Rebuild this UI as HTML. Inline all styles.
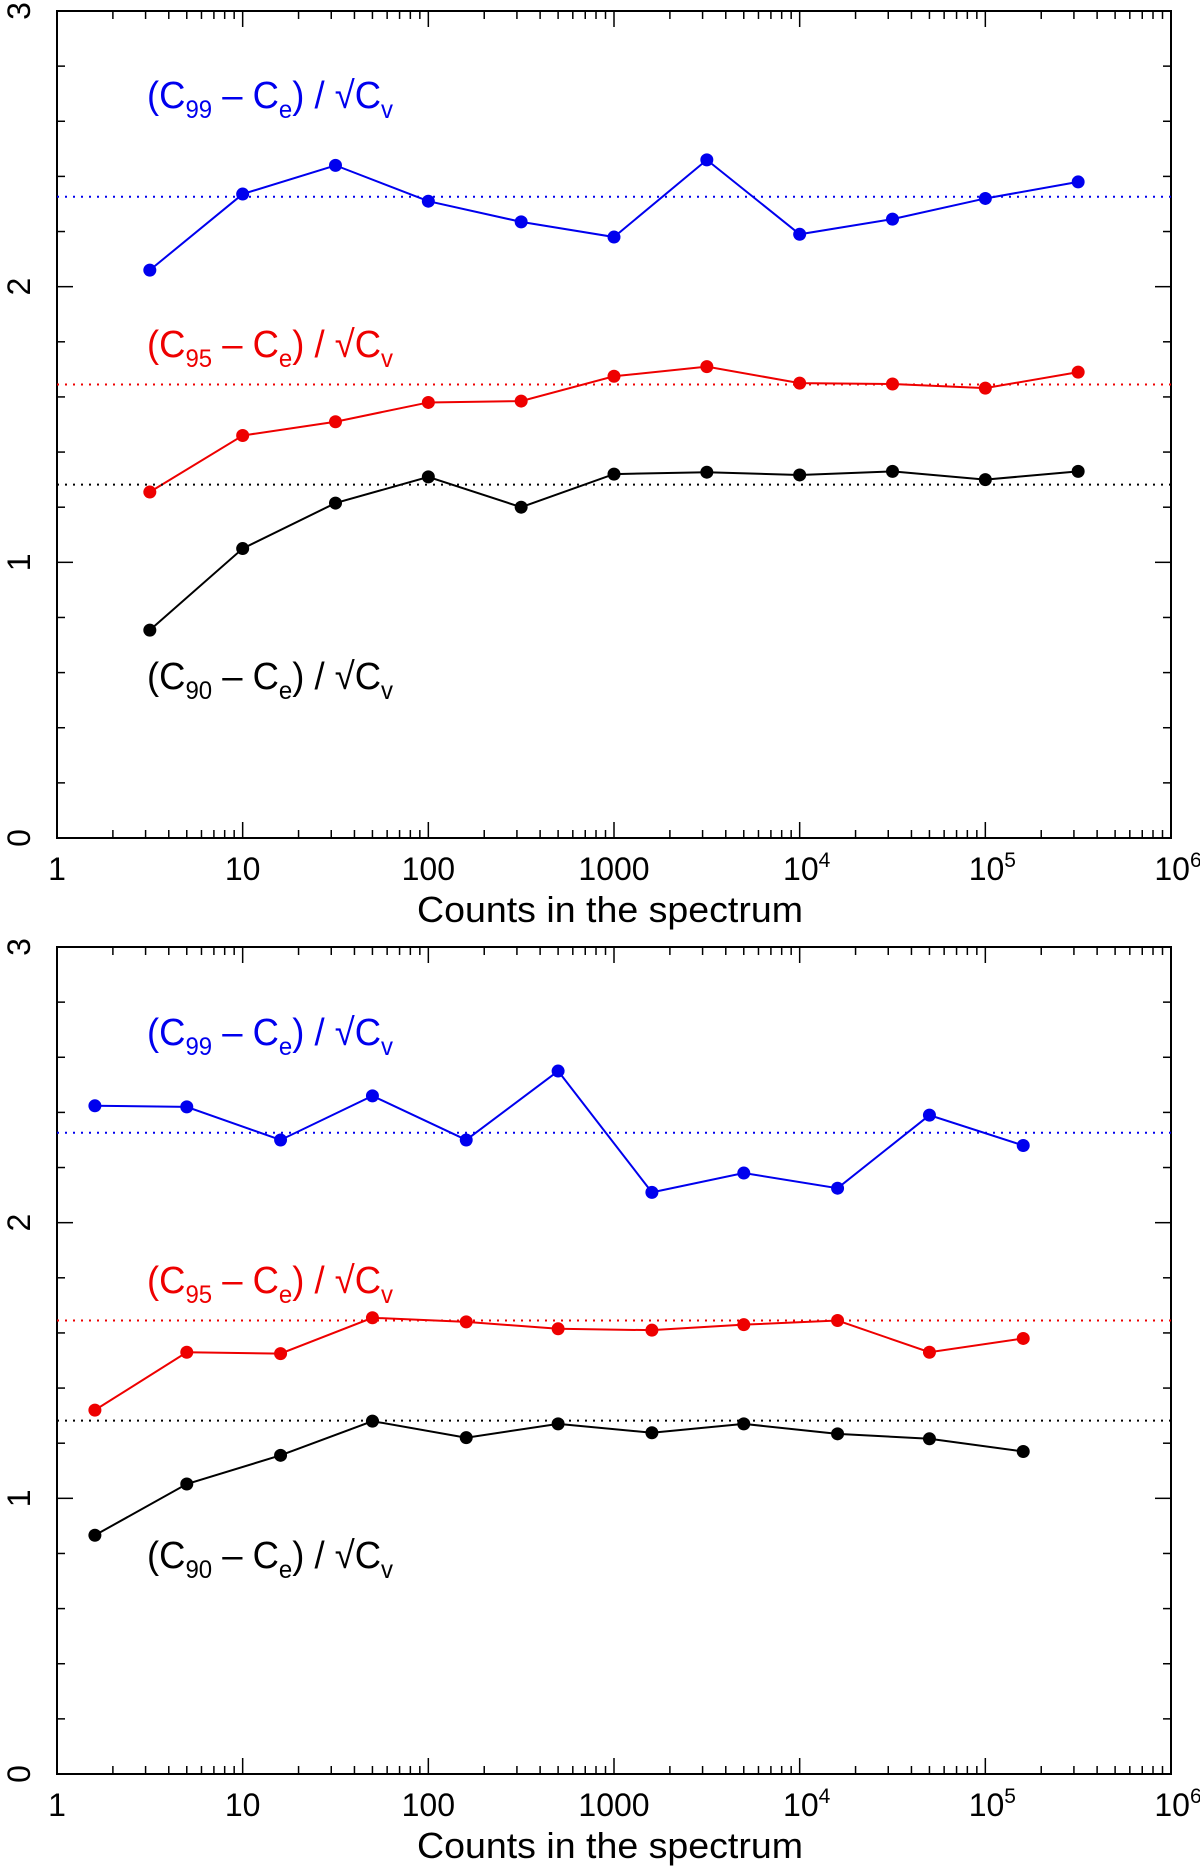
<!DOCTYPE html>
<html><head><meta charset="utf-8"><style>
html,body{margin:0;padding:0;background:#fff;}
svg{display:block;font-family:"Liberation Sans",sans-serif;}
</style></head><body>
<svg id="chart" width="1200" height="1871" viewBox="0 0 1200 1871" xmlns="http://www.w3.org/2000/svg"></svg>
<script>
// Panel 1 data
const p1X = [3.162, 10, 31.62, 100, 316.2, 1000, 3162, 10000, 31620, 100000, 316200];
const p1Blue = [2.06, 2.336, 2.44, 2.31, 2.235, 2.18, 2.46, 2.19, 2.245, 2.32, 2.38];
const p1Red = [1.255, 1.46, 1.51, 1.58, 1.585, 1.675, 1.71, 1.65, 1.647, 1.632, 1.69];
const p1Black = [0.754, 1.05, 1.215, 1.31, 1.20, 1.32, 1.327, 1.317, 1.33, 1.30, 1.33];
// Panel 2 data
const p2X = [1.6, 5, 16, 50, 160, 500, 1600, 5000, 16000, 50000, 160000];
const p2Blue = [2.424, 2.42, 2.30, 2.46, 2.30, 2.55, 2.11, 2.18, 2.125, 2.39, 2.28];
const p2Red = [1.32, 1.53, 1.525, 1.655, 1.64, 1.615, 1.61, 1.63, 1.645, 1.53, 1.58];
const p2Black = [0.866, 1.052, 1.156, 1.28, 1.22, 1.27, 1.238, 1.27, 1.234, 1.216, 1.17];
// reference levels
const refLevels = [2.326, 1.645, 1.282];
const yTicks = ["0", "1", "2", "3"];
const xTickLabels = [["1",""],["10",""],["100",""],["1000",""],["10","4"],["10","5"],["10","6"]];

const NS = "http://www.w3.org/2000/svg";
const svg = document.getElementById("chart");
function el(tag, attrs, parent) {
  const e = document.createElementNS(NS, tag);
  for (const k in attrs) e.setAttribute(k, attrs[k]);
  (parent || svg).appendChild(e);
  return e;
}
const L = 57, R = 1171;
function panel(idx, top, bottom, xs, series) {
  const g = el("g", {});
  
  
  const xS = v => L + (Math.log10(v) / 6) * (R - L);
  const yS = v => bottom - v / 3 * (bottom - top);
  const fr = el("rect", {x: L, y: top, width: R - L, height: bottom - top, fill: "none", stroke: "#000", "stroke-width": 2}, g);
  
  
  for (let i = 0; i <= 15; i++) {
    const v = i * 0.2, y = yS(v), len = (i % 5 === 0) ? 16 : 8;
    el("line", {x1: L, x2: L + len, y1: y, y2: y, stroke: "#000", "stroke-width": 1.5}, g);
    el("line", {x1: R, x2: R - len, y1: y, y2: y, stroke: "#000", "stroke-width": 1.5}, g);
  }
  yTicks.forEach((t, i) => {
    const y = yS(i);
    const tx = el("text", {x: 0, y: 0, transform: `translate(30,${y}) rotate(-90)`, "text-anchor": "middle", "font-size": 32}, g);
    tx.textContent = t;
    
    
  });
  for (let d = 0; d < 6; d++) {
    for (let m = 1; m <= 9; m++) {
      const v = Math.pow(10, d) * m, x = xS(v), len = m === 1 ? 16 : 8;
      if (m === 1 && d === 0) continue;
      el("line", {x1: x, x2: x, y1: bottom, y2: bottom - len, stroke: "#000", "stroke-width": 1.5}, g);
      el("line", {x1: x, x2: x, y1: top, y2: top + len, stroke: "#000", "stroke-width": 1.5}, g);
    }
  }
  xTickLabels.forEach((t, d) => {
    const x = xS(Math.pow(10, d));
    const tx = el("text", {x: x, y: bottom + 42, "text-anchor": "middle", "font-size": 32}, g);
    tx.textContent = t[0];
    if (t[1]) {
      const ts = el("tspan", {dy: -13, "font-size": 21}, tx);
      ts.textContent = t[1];
      tx.setAttribute("x", x + 7);
    }
    
    
  });
  const xl = el("text", {x: 417, y: bottom + 84, "font-size": 36, textLength: 386, lengthAdjust: "spacingAndGlyphs"}, g);
  xl.textContent = "Counts in the spectrum";
  
  
  series.forEach(s => {
    const ref = el("line", {x1: L, x2: R, y1: yS(s.ref), y2: yS(s.ref), stroke: s.c, "stroke-width": 2, "stroke-dasharray": "2,6"}, g);
    
    
    const pts = xs.map((x, i) => xS(x) + "," + yS(s.v[i])).join(" ");
    const pl = el("polyline", {points: pts, fill: "none", stroke: s.c, "stroke-width": 2}, g);
    
    
    xs.forEach((x, i) => {
      const c = el("circle", {cx: xS(x), cy: yS(s.v[i]), r: 6.5, fill: s.c}, g);
      
      
    });
    const lb = el("text", {x: 147, y: s.ly, "font-size": 38, fill: s.c, textLength: 246, lengthAdjust: "spacingAndGlyphs"}, g);
    lb.innerHTML = '(C<tspan font-size="25" dy="10">' + s.sub + '</tspan><tspan dy="-10"> \u2013 C</tspan><tspan font-size="25" dy="10">e</tspan><tspan dy="-10">) / \u221AC</tspan><tspan font-size="25" dy="10">v</tspan>';
    
    
  });
}
panel(1, 11, 838, p1X, [
  {n: "c99", c: "#0000ee", v: p1Blue, ref: refLevels[0], sub: "99", ly: 108},
  {n: "c95", c: "#ee0000", v: p1Red, ref: refLevels[1], sub: "95", ly: 357},
  {n: "c90", c: "#000", v: p1Black, ref: refLevels[2], sub: "90", ly: 689}
]);
panel(2, 947, 1774, p2X, [
  {n: "c99", c: "#0000ee", v: p2Blue, ref: refLevels[0], sub: "99", ly: 1045},
  {n: "c95", c: "#ee0000", v: p2Red, ref: refLevels[1], sub: "95", ly: 1293},
  {n: "c90", c: "#000", v: p2Black, ref: refLevels[2], sub: "90", ly: 1568}
]);
</script>
</body></html>
